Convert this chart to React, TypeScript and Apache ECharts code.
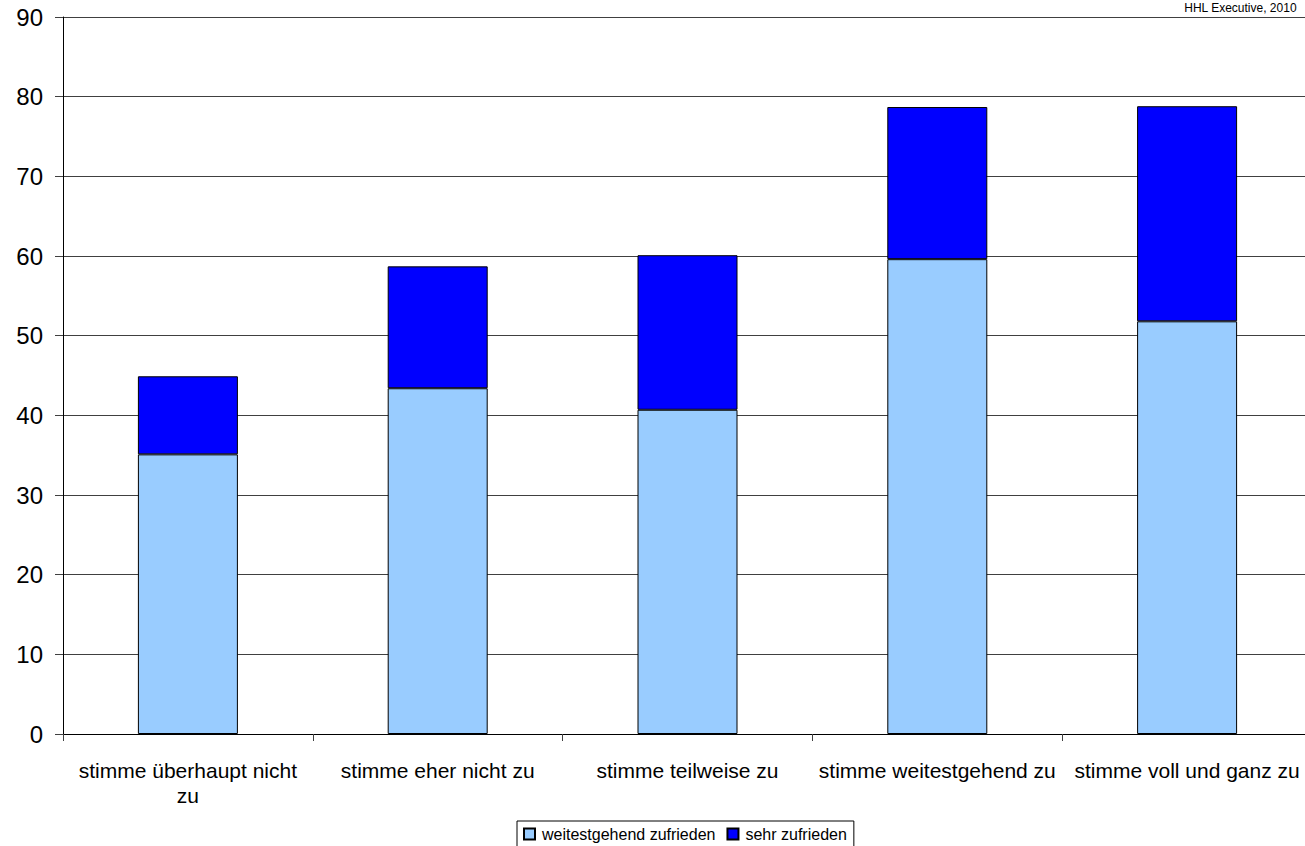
import React, { useEffect, useRef } from "react";
import * as echarts from "echarts";

// Answer categories (x axis)
const categories = [
  "stimme überhaupt nicht\nzu",
  "stimme eher nicht zu",
  "stimme teilweise zu",
  "stimme weitestgehend zu",
  "stimme voll und ganz zu",
];

// Stacked shares per category
const weitestgehendZufrieden = [35.1, 43.4, 40.7, 59.6, 51.8];
const sehrZufrieden = [9.8, 15.3, 19.4, 19.1, 27.0];

const seriesNames = ["weitestgehend zufrieden", "sehr zufrieden"];
const sourceNote = "HHL Executive, 2010";

const FONT = "'Liberation Sans', Arial, sans-serif";

// The plot runs a few pixels past the visible frame on the right,
// so the chart canvas is wider than the clipping wrapper.
const VIEW_W = 1305;
const VIEW_H = 846;
const CANVAS_W = 1320;

export default function App() {
  const ref = useRef<HTMLDivElement>(null);

  useEffect(() => {
    if (!ref.current) return;
    const chart = echarts.init(ref.current, undefined, { renderer: "svg" });
    chart.setOption({
      animation: false,
      backgroundColor: "#ffffff",
      textStyle: { fontFamily: FONT, color: "#000" },
      grid: { left: 63, top: 17, width: 1249, height: 717, containLabel: false },
      graphic: [
        {
          type: "text",
          right: CANVAS_W - 1297,
          top: 2,
          style: { text: sourceNote, font: `12px ${FONT}`, fill: "#000" },
        },
      ],
      legend: {
        data: seriesNames,
        top: 821,
        left: 517,
        orient: "horizontal",
        borderColor: "#000",
        borderWidth: 1,
        padding: [5, 7, 8, 6],
        itemWidth: 11,
        itemHeight: 11,
        itemGap: 11,
        icon: "rect",
        textStyle: { fontFamily: FONT, fontSize: 16, color: "#000", padding: [0, 0, 0, 2] },
      },
      xAxis: {
        type: "category",
        data: categories,
        boundaryGap: true,
        axisLine: { show: true, lineStyle: { color: "#000", width: 1 } },
        axisTick: { show: true, length: 7, alignWithLabel: false, lineStyle: { color: "#404040" } },
        axisLabel: {
          interval: 0,
          margin: 24,
          fontFamily: FONT,
          fontSize: 21,
          color: "#000",
          lineHeight: 25,
        },
        splitLine: { show: false },
      },
      yAxis: {
        type: "value",
        min: 0,
        max: 90,
        interval: 10,
        axisLine: { show: true, lineStyle: { color: "#000", width: 1 } },
        axisTick: { show: true, length: 8, lineStyle: { color: "#404040" } },
        axisLabel: { margin: 20, fontFamily: FONT, fontSize: 24, color: "#000" },
        splitLine: { show: true, lineStyle: { color: "#404040", width: 1 } },
      },
      series: [
        {
          name: seriesNames[0],
          type: "bar",
          stack: "total",
          barWidth: 100,
          data: weitestgehendZufrieden,
          itemStyle: { color: "#99CCFF", borderColor: "#000", borderWidth: 1 },
        },
        {
          name: seriesNames[1],
          type: "bar",
          stack: "total",
          barWidth: 100,
          data: sehrZufrieden,
          itemStyle: { color: "#0000FF", borderColor: "#000", borderWidth: 1 },
        },
      ],
    });
    return () => chart.dispose();
  }, []);

  return (
    <div
      style={{
        position: "absolute",
        left: 0,
        top: 0,
        width: VIEW_W,
        height: VIEW_H,
        overflow: "hidden",
        background: "#fff",
      }}
    >
      <div ref={ref} style={{ width: CANVAS_W, height: VIEW_H }} />
    </div>
  );
}
